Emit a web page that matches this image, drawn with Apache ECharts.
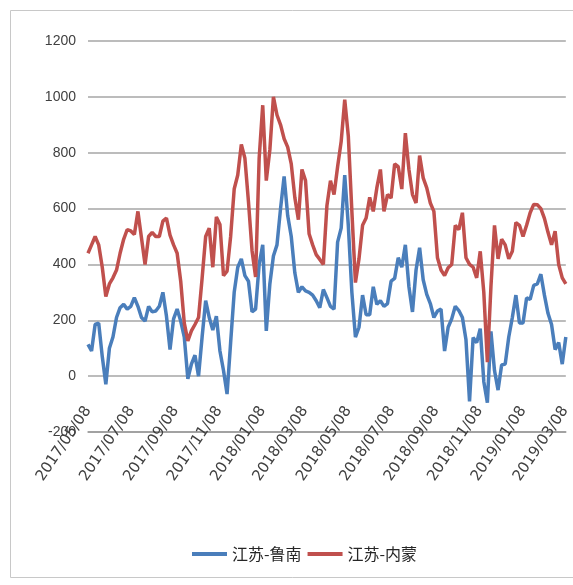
<!DOCTYPE html>
<html>
<head>
<meta charset="utf-8">
<script src="https://cdn.jsdelivr.net/npm/echarts@6/dist/echarts.min.js"></script>
<style>html,body{margin:0;padding:0;background:#fff}#c{width:573px;height:585px}</style>
</head>
<body>
<div id="c"></div>
<script>
// Sample every 5 days from 2017/05/08
var startDate = [2017, 4, 8];
var stepDays = 5;
var tickLabels = ['2017/05/08','2017/07/08','2017/09/08','2017/11/08','2018/01/08','2018/03/08','2018/05/08','2018/07/08','2018/09/08','2018/11/08','2019/01/08','2019/03/08'];
var seriesNames = ['江苏-鲁南', '江苏-内蒙'];
var luNan = [114,90,185,190,70,-29,100,140,210,245,257,240,250,281,250,210,197,250,230,233,250,300,215,95,205,240,197,140,-10,43,75,0,140,270,210,165,215,90,20,-64,120,300,390,420,360,340,230,240,400,470,162,330,430,470,600,715,575,500,370,300,320,305,300,290,270,245,310,281,250,240,480,530,720,540,300,140,175,290,220,220,320,257,270,250,260,340,350,424,390,470,320,230,380,460,345,293,260,210,233,240,90,175,205,250,235,210,130,-90,138,120,170,-20,-95,160,20,-50,40,43,140,210,290,190,190,280,275,325,330,365,290,225,185,95,120,43,140];
var neiMeng = [440,470,500,470,390,285,330,352,380,440,490,525,520,507,590,495,400,500,515,500,500,555,566,505,470,440,340,190,126,162,185,210,350,500,530,390,570,543,360,376,500,670,720,830,780,625,450,355,780,970,700,810,1000,935,900,850,820,760,640,560,740,700,510,470,435,418,400,610,700,650,750,840,990,860,590,335,420,540,566,640,590,674,740,590,650,638,760,750,670,870,740,650,620,790,710,674,620,590,424,380,360,388,400,540,525,585,424,400,390,352,447,300,50,320,540,420,490,470,420,447,550,540,500,540,585,615,614,600,565,515,470,519,400,352,330];

function dateAt(k){ return new Date(startDate[0], startDate[1], startDate[2] + k*stepDays).getTime(); }
function parseD(s){ var p = s.split('/'); return new Date(+p[0], +p[1]-1, +p[2]).getTime(); }
function pad(n){ return (n<10?'0':'')+n; }
var blueData = luNan.map(function(v,i){ return [dateAt(i), v]; });
var redData = neiMeng.map(function(v,i){ return [dateAt(i), v]; });

var chart = echarts.init(document.getElementById('c'));
chart.setOption({
  backgroundColor: '#fff',
  animation: false,
  graphic: [{
    type: 'rect', shape: {x: 10.5, y: 10.5, width: 600, height: 567},
    style: {fill: 'none', stroke: '#c8c8c8', lineWidth: 1}, silent: true
  }],
  grid: {left: 88, right: 6, top: 41, bottom: 153},
  legend: {
    data: seriesNames.map(function(n){ return {name: n, icon: 'rect'}; }),
    left: 187, top: 541,
    itemWidth: 35, itemHeight: 4, itemGap: 6,
    textStyle: {fontSize: 16, color: '#262626', fontFamily: 'Noto Sans CJK SC'}
  },
  xAxis: {
    type: 'value',
    min: dateAt(0), max: dateAt(luNan.length - 1),
    axisLine: {onZero: false, lineStyle: {color: '#999', width: 1.5}},
    axisTick: {show: false},
    splitLine: {show: false},
    axisLabel: {
      customValues: tickLabels.map(parseD),
      rotate: 56, margin: -24, fontSize: 15, color: '#404040',
      fontFamily: 'DejaVu Sans',
      formatter: function(v){ var d = new Date(v); return d.getFullYear()+'/'+pad(d.getMonth()+1)+'/'+pad(d.getDate()); }
    }
  },
  yAxis: {
    type: 'value', min: -200, max: 1200, interval: 200,
    axisLine: {show: false}, axisTick: {show: false},
    splitLine: {lineStyle: {color: '#a6a6a6', width: 1.5}},
    axisLabel: {margin: 12, fontSize: 14, color: '#404040', fontFamily: 'Liberation Sans',
      formatter: function(v){ return String(v); }}
  },
  series: [
    {name: seriesNames[0], type: 'line', data: blueData, symbol: 'none', lineStyle: {color: '#4a7ebb', width: 3.5}, itemStyle: {color: '#4a7ebb'}},
    {name: seriesNames[1], type: 'line', data: redData, symbol: 'none', lineStyle: {color: '#c0504d', width: 3.5}, itemStyle: {color: '#c0504d'}}
  ]
});
</script>
</body>
</html>
